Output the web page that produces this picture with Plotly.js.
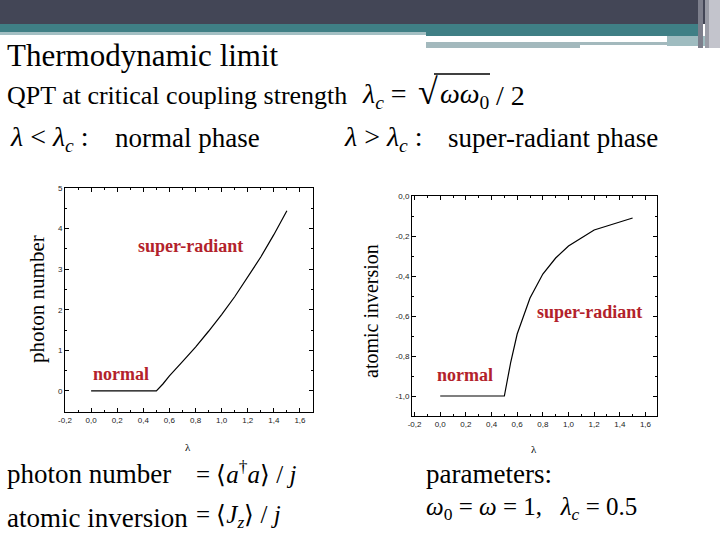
<!DOCTYPE html>
<html>
<head>
<meta charset="utf-8">
<script src="https://cdn.plot.ly/plotly-3.0.1.min.js"></script>
<style>
  html, body { margin: 0; padding: 0; background: #fff; }
  #plot { width: 720px; height: 540px; }
  #plot .annotation-text, #plot .annotation-text tspan { font-family: "Liberation Serif", "Times New Roman", serif !important; }
</style>
</head>
<body>
<div id="plot"></div>
<script>
// values
const lambdaVals = [0.0, 0.1, 0.2, 0.3, 0.4, 0.5, 0.55, 0.6, 0.7, 0.8, 0.9, 1.0, 1.1, 1.2, 1.3, 1.4, 1.5];
const photonVals = [0, 0, 0, 0, 0, 0, 0.17, 0.37, 0.72, 1.08, 1.47, 1.88, 2.32, 2.8, 3.3, 3.85, 4.44];
const inversionVals = [-1, -1, -1, -1, -1, -1, -0.83, -0.69, -0.51, -0.39, -0.31, -0.25, -0.21, -0.17, -0.15, -0.13, -0.11];

const xTicks = [-0.2, 0, 0.2, 0.4, 0.6, 0.8, 1.0, 1.2, 1.4, 1.6];
const yTicks1 = [0, 1, 2, 3, 4, 5];
const yTicks2 = [-1.0, -0.8, -0.6, -0.4, -0.2, 0.0];

const fmt = (v, d) => v.toFixed(d).replace(".", ",");

const W = 720, H = 540;
const px = (x) => x / W;
const py = (y) => 1 - y / H;

const serif = "Liberation Serif";
const red = "#b3222b";

function axisStyle(extra) {
  return Object.assign({
    showline: true, mirror: "ticks", linecolor: "#000", linewidth: 1,
    ticks: "inside", ticklen: 4, tickcolor: "#000",
    showgrid: false, zeroline: false, fixedrange: true,
    tickfont: { family: "Arial", size: 8, color: "#222" },
  }, extra);
}

const traces = [
  { x: lambdaVals, y: photonVals, type: "scatter", mode: "lines",
    line: { color: "#000", width: 1.2 }, xaxis: "x", yaxis: "y", hoverinfo: "skip" },
  { x: lambdaVals, y: inversionVals, type: "scatter", mode: "lines",
    line: { color: "#000", width: 1.2 }, xaxis: "x2", yaxis: "y2", hoverinfo: "skip" },
];

function txt(x, y, text, size, color, extra) {
  return Object.assign({
    xref: "paper", yref: "paper", x: px(x), y: py(y), text: text,
    showarrow: false, xanchor: "left", yanchor: "middle",
    font: { family: serif, size: size, color: color || "#000" },
  }, extra);
}

const annotations = [
  txt(5, 55, "Thermodynamic limit", 31),
  txt(5, 95, "QPT at critical coupling strength", 26),
  txt(360, 95, "<i>λ<sub>c</sub></i> =", 28),
  txt(416, 92, "√", 36),
  txt(438, 95, "<i>ωω</i><sub>0</sub>", 28),
  txt(494, 95, "/ 2", 28),
  txt(8, 138, "<i>λ</i> < <i>λ<sub>c</sub></i> :", 28),
  txt(113, 138, "normal phase", 27),
  txt(342, 138, "<i>λ</i> > <i>λ<sub>c</sub></i> :", 28),
  txt(446, 138, "super-radiant phase", 27),

  txt(37, 299, "photon number", 21, null, { xanchor: "center", textangle: -90 }),
  txt(371, 311, "atomic inversion", 20, null, { xanchor: "center", textangle: -90 }),
  txt(188, 447, "λ", 11, null, { xanchor: "center" }),
  txt(534, 449, "λ", 11, null, { xanchor: "center" }),

  txt(136, 246, "<b>super-radiant</b>", 18, red),
  txt(91, 374, "<b>normal</b>", 18, red),
  txt(535, 312, "<b>super-radiant</b>", 18, red),
  txt(435, 375, "<b>normal</b>", 18, red),

  txt(5, 474, "photon number", 27),
  txt(194, 472, "= ⟨<i>a</i><sup>†</sup><i>a</i>⟩ / <i>j</i>", 25),
  txt(5, 518, "atomic inversion", 27),
  txt(194, 516, "= ⟨<i>J<sub>z</sub></i>⟩ / <i>j</i>", 25),
  txt(424, 474, "parameters:", 27),
  txt(424, 508, "<i>ω</i><sub>0</sub> = <i>ω</i> = 1,   <i>λ<sub>c</sub></i> = 0.5", 25),
];

function rect(x0, y0, x1, y1, color) {
  return { type: "rect", xref: "paper", yref: "paper", layer: "below",
    x0: px(x0), x1: px(x1), y0: py(y1), y1: py(y0),
    fillcolor: color, line: { width: 0 } };
}

const shapes = [
  rect(0, 0, 720, 24, "#434656"),
  rect(0, 24, 700, 32, "#3f7f85"),
  rect(0, 32, 426, 35, "#a3bfc3"),
  rect(426, 32, 700, 36, "#3f7f85"),
  rect(426, 42, 580, 48, "#a3b9bd"),
  rect(580, 42, 667, 45, "#a3b9bd"),
  rect(667, 36, 707, 46, "#9fbcc0"),
  rect(698, 0, 703, 48, "#7d7f8c"),
  rect(705, 0, 709, 48, "#9a9ca6"),
  rect(709, 0, 720, 48, "#c3c4cc"),
  // overline of the square root
  { type: "line", xref: "paper", yref: "paper", x0: px(434), x1: px(490), y0: py(74), y1: py(74),
    line: { color: "#000", width: 1.3 } },
];

const layout = {
  width: W, height: H,
  margin: { l: 0, r: 0, t: 0, b: 0 },
  paper_bgcolor: "#fff", plot_bgcolor: "#fff",
  showlegend: false,
  xaxis: axisStyle({ domain: [px(65), px(313)], range: [-0.2, 1.7], anchor: "y",
    tickvals: xTicks, ticktext: xTicks.map((v) => fmt(v, 1)),
    minor: { dtick: 0.1, ticks: "inside", ticklen: 2, tickcolor: "#000" } }),
  yaxis: axisStyle({ domain: [py(412), py(188)], range: [-0.52, 5], anchor: "x",
    tickvals: yTicks1, ticktext: yTicks1.map((v) => String(v)),
    minor: { dtick: 0.5, ticks: "inside", ticklen: 2, tickcolor: "#000" } }),
  xaxis2: axisStyle({ domain: [px(412), px(657)], range: [-0.22, 1.69], anchor: "y2",
    tickvals: xTicks, ticktext: xTicks.map((v) => fmt(v, 1)),
    minor: { dtick: 0.1, ticks: "inside", ticklen: 2, tickcolor: "#000" } }),
  yaxis2: axisStyle({ domain: [py(416), py(196)], range: [-1.1, 0], anchor: "x2",
    tickvals: yTicks2, ticktext: yTicks2.map((v) => fmt(v, 1)),
    minor: { dtick: 0.1, ticks: "inside", ticklen: 2, tickcolor: "#000" } }),
  annotations: annotations,
  shapes: shapes,
};

Plotly.newPlot("plot", traces, layout, { displayModeBar: false, staticPlot: true });
</script>
</body>
</html>
